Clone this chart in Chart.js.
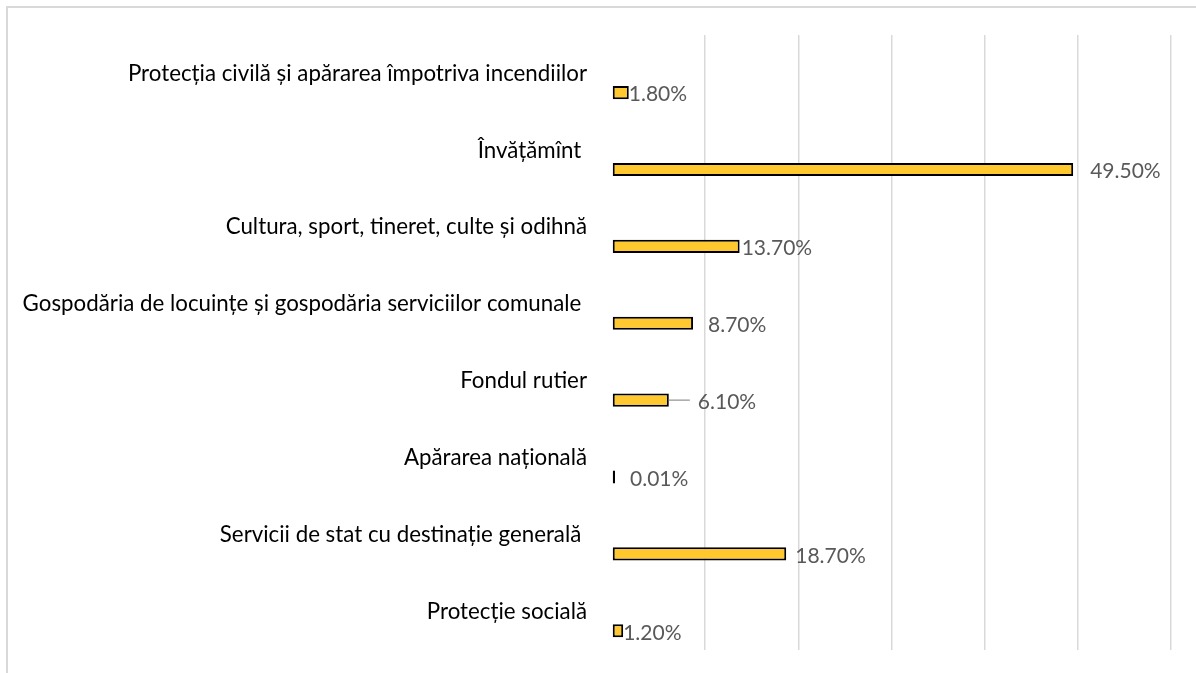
<!DOCTYPE html>
<html>
<head>
<meta charset="utf-8">
<script src="https://cdn.jsdelivr.net/npm/chart.js@4/dist/chart.umd.min.js"></script>
<style>
    body { margin: 0; background: #fff; }
    #frame { position: absolute; left: 6px; top: 6px; width: 1300px; height: 800px; border: 2px solid #d9d9d9; box-sizing: border-box; }
    #wrap { position: absolute; left: 0; top: 0; width: 1196px; height: 673px; }
</style>
</head>
<body>
<div id="frame"></div>
<div id="wrap"><canvas id="budgetChart" width="1196" height="673"></canvas></div>
<script>
// categories, top to bottom
const categories = [
    "Protecția civilă și apărarea împotriva incendiilor",
    "Învățămînt ",
    "Cultura, sport, tineret, culte și odihnă",
    "Gospodăria de locuințe și gospodăria serviciilor comunale ",
    "Fondul rutier",
    "Apărarea națională",
    "Servicii de stat cu destinație generală ",
    "Protecție socială",
];
const shares = [1.8, 49.5, 13.7, 8.7, 6.1, 0.01, 18.7, 1.2];
const shareLabels = ["1.80%", "49.50%", "13.70%", "8.70%", "6.10%", "0.01%", "18.70%", "1.20%"];
const axisTicks = [0, 10, 20, 30, 40, 50, 60];

// how far each value label sits from the bar end (as in the original)
const labelGap = [0, 17, 2, 15, 29, 15, 9, 0];

const valueLabels = {
    id: "valueLabels",
    afterDatasetsDraw(chart) {
        const ctx = chart.ctx;
        const meta = chart.getDatasetMeta(1);
        ctx.save();
        ctx.font = "21px Lato";
        ctx.fillStyle = "#595959";
        ctx.textAlign = "left";
        ctx.textBaseline = "middle";
        meta.data.forEach((bar, i) => {
            const gap = labelGap[i];
            if (gap > 20) {
                ctx.strokeStyle = "#a6a6a6";
                ctx.lineWidth = 1.5;
                ctx.beginPath();
                ctx.moveTo(bar.x, bar.y);
                ctx.lineTo(bar.x + gap - 8, bar.y);
                ctx.stroke();
            }
            ctx.fillText(shareLabels[i], bar.x + gap, bar.y + 2);
        });
        ctx.restore();
    },
};

new Chart(document.getElementById("budgetChart"), {
    type: "bar",
    data: {
        labels: categories,
        datasets: [
            {
                // empty spacer series, pushes the bars below the labels
                data: categories.map(() => null),
                backgroundColor: "transparent",
            },
            {
                data: shares,
                backgroundColor: "#FFC82E",
                borderColor: "#000",
                borderWidth: 2,
                borderSkipped: false,
                minBarLength: 3,
            },
        ],
    },
    options: {
        indexAxis: "y",
        responsive: false,
        animation: false,
        categoryPercentage: 1,
        barPercentage: 0.34,
        layout: { padding: { left: 0, right: 25, top: 35, bottom: 23 } },
        plugins: { legend: { display: false }, tooltip: { enabled: false } },
        scales: {
            x: {
                min: 0,
                max: 60,
                afterBuildTicks: (scale) => {
                    scale.ticks = axisTicks.map((v) => ({ value: v }));
                },
                afterFit: (scale) => {
                    scale.height = 0;
                },
                ticks: { display: false },
                border: { display: false },
                grid: {
                    drawTicks: false,
                    lineWidth: 1.5,
                    color: (c) => (c.tick && c.tick.value === 0 ? "transparent" : "#d9d9d9"),
                },
            },
            y: {
                afterFit: (scale) => {
                    scale.width = 612;
                    scale.paddingTop = 0;
                    scale.paddingBottom = 0;
                },
                border: { display: false },
                grid: { display: false },
                ticks: {
                    color: "#000",
                    font: { family: "Lato", size: 22.3 },
                    padding: 17,
                },
            },
        },
    },
    plugins: [valueLabels],
});
</script>
</body>
</html>
